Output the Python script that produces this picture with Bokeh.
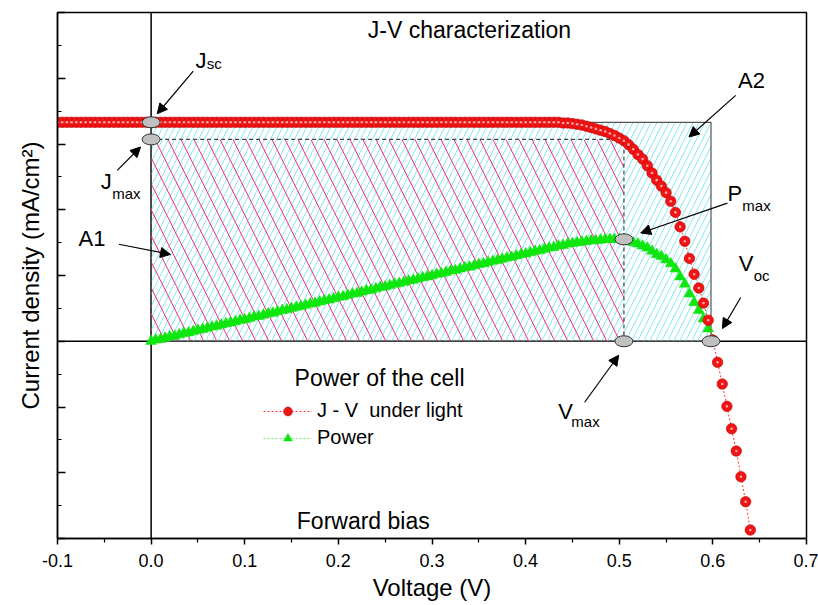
from bokeh.plotting import figure
from bokeh.models import (Span, Arrow, NormalHead, Label, Legend, LegendItem,
                          FixedTicker, PrintfTickFormatter, CustomJSTickFormatter)
from bokeh.embed import file_html
from bokeh.resources import INLINE

# ---------------- data ----------------
# J-V curve under light (V in volts, J in mA/cm^2)
v_jv = [
    -0.100, -0.095, -0.090, -0.085, -0.080, -0.075, -0.070, -0.065, -0.060, -0.055,
    -0.050, -0.045, -0.040, -0.035, -0.030, -0.025, -0.020, -0.015, -0.010, -0.005,
    0.000, 0.005, 0.010, 0.015, 0.020, 0.025, 0.030, 0.035, 0.040, 0.045,
    0.050, 0.055, 0.060, 0.065, 0.070, 0.075, 0.080, 0.085, 0.090, 0.095,
    0.100, 0.105, 0.110, 0.115, 0.120, 0.125, 0.130, 0.135, 0.140, 0.145,
    0.150, 0.155, 0.160, 0.165, 0.170, 0.175, 0.180, 0.185, 0.190, 0.195,
    0.200, 0.205, 0.210, 0.215, 0.220, 0.225, 0.230, 0.235, 0.240, 0.245,
    0.250, 0.255, 0.260, 0.265, 0.270, 0.275, 0.280, 0.285, 0.290, 0.295,
    0.300, 0.305, 0.310, 0.315, 0.320, 0.325, 0.330, 0.335, 0.340, 0.345,
    0.350, 0.355, 0.360, 0.365, 0.370, 0.375, 0.380, 0.385, 0.390, 0.395,
    0.400, 0.405, 0.410, 0.415, 0.420, 0.425, 0.430, 0.435, 0.440, 0.445,
    0.450, 0.455, 0.460, 0.465, 0.470, 0.475, 0.480, 0.485, 0.490, 0.495,
    0.500, 0.505, 0.510, 0.515, 0.520, 0.525, 0.530, 0.535, 0.540, 0.545,
    0.550, 0.555, 0.560, 0.565, 0.570, 0.575, 0.580, 0.585, 0.590, 0.595,
    0.600, 0.605, 0.610, 0.615, 0.620, 0.625, 0.630, 0.635, 0.640,
]
j_jv = [
    33.3, 33.3, 33.3, 33.3, 33.3, 33.3, 33.3, 33.3, 33.3, 33.3,
    33.3, 33.3, 33.3, 33.3, 33.3, 33.3, 33.3, 33.3, 33.3, 33.3,
    33.3, 33.3, 33.3, 33.3, 33.3, 33.3, 33.3, 33.3, 33.3, 33.3,
    33.3, 33.3, 33.3, 33.3, 33.3, 33.3, 33.3, 33.3, 33.3, 33.3,
    33.3, 33.3, 33.3, 33.3, 33.3, 33.3, 33.3, 33.3, 33.3, 33.3,
    33.3, 33.3, 33.3, 33.3, 33.3, 33.3, 33.3, 33.3, 33.3, 33.3,
    33.3, 33.3, 33.3, 33.3, 33.3, 33.3, 33.3, 33.3, 33.3, 33.3,
    33.3, 33.3, 33.3, 33.3, 33.3, 33.3, 33.3, 33.3, 33.3, 33.3,
    33.3, 33.3, 33.3, 33.3, 33.3, 33.3, 33.3, 33.3, 33.3, 33.3,
    33.3, 33.3, 33.3, 33.3, 33.3, 33.3, 33.3, 33.3, 33.3, 33.3,
    33.3, 33.3, 33.3, 33.3, 33.3, 33.3, 33.3, 33.3, 33.2, 33.2,
    33.1, 33.0, 32.9, 32.7, 32.5, 32.3, 32.1, 31.9, 31.6, 31.3,
    30.9, 30.5, 29.9, 29.2, 28.4, 27.7, 26.7, 25.6, 24.5, 23.6,
    22.6, 21.3, 19.6, 17.4, 15.2, 12.6, 10.2, 8.1, 5.8, 3.2,
    0.2, -3.2, -6.5, -9.9, -13.3, -16.7, -20.6, -24.4, -28.7,
]

# Power of the cell (V in volts, P in mW/cm^2)
v_pow = [
    0.000, 0.005, 0.010, 0.015, 0.020, 0.025, 0.030, 0.035, 0.040, 0.045,
    0.050, 0.055, 0.060, 0.065, 0.070, 0.075, 0.080, 0.085, 0.090, 0.095,
    0.100, 0.105, 0.110, 0.115, 0.120, 0.125, 0.130, 0.135, 0.140, 0.145,
    0.150, 0.155, 0.160, 0.165, 0.170, 0.175, 0.180, 0.185, 0.190, 0.195,
    0.200, 0.205, 0.210, 0.215, 0.220, 0.225, 0.230, 0.235, 0.240, 0.245,
    0.250, 0.255, 0.260, 0.265, 0.270, 0.275, 0.280, 0.285, 0.290, 0.295,
    0.300, 0.305, 0.310, 0.315, 0.320, 0.325, 0.330, 0.335, 0.340, 0.345,
    0.350, 0.355, 0.360, 0.365, 0.370, 0.375, 0.380, 0.385, 0.390, 0.395,
    0.400, 0.405, 0.410, 0.415, 0.420, 0.425, 0.430, 0.435, 0.440, 0.445,
    0.450, 0.455, 0.460, 0.465, 0.470, 0.475, 0.480, 0.485, 0.490, 0.495,
    0.500, 0.505, 0.510, 0.515, 0.520, 0.525, 0.530, 0.535, 0.540, 0.545,
    0.550, 0.555, 0.560, 0.565, 0.570, 0.575, 0.580, 0.585, 0.590, 0.595,
    0.600,
]
p_pow = [
    0.0, 0.2, 0.3, 0.5, 0.7, 0.8, 1.0, 1.2, 1.3, 1.5,
    1.7, 1.8, 2.0, 2.2, 2.3, 2.5, 2.7, 2.8, 3.0, 3.2,
    3.3, 3.5, 3.7, 3.8, 4.0, 4.2, 4.3, 4.5, 4.7, 4.8,
    5.0, 5.2, 5.3, 5.5, 5.7, 5.8, 6.0, 6.2, 6.3, 6.5,
    6.7, 6.8, 7.0, 7.2, 7.3, 7.5, 7.7, 7.8, 8.0, 8.2,
    8.3, 8.5, 8.7, 8.8, 9.0, 9.2, 9.3, 9.5, 9.7, 9.8,
    10.0, 10.2, 10.3, 10.5, 10.7, 10.8, 11.0, 11.2, 11.3, 11.5,
    11.7, 11.8, 12.0, 12.2, 12.3, 12.5, 12.7, 12.8, 13.0, 13.2,
    13.3, 13.5, 13.7, 13.8, 14.0, 14.2, 14.3, 14.5, 14.6, 14.8,
    14.9, 15.0, 15.1, 15.2, 15.3, 15.3, 15.4, 15.5, 15.5, 15.5,
    15.5, 15.5, 15.2, 15.0, 14.8, 14.5, 14.2, 13.7, 13.2, 12.9,
    12.4, 11.8, 11.0, 9.8, 8.7, 7.2, 5.9, 4.7, 3.4, 1.9,
    0.1,
]

# characteristic points
j_sc = 33.3
v_oc = 0.598
v_max = 0.505
j_max = 30.7
p_max = 15.5
key_names = ["Jsc", "Jmax", "Pmax", "Vmax", "Voc"]
key_v = [0.0, 0.0, v_max, v_max, v_oc]
key_j = [j_sc, j_max, p_max, 0.0, 0.0]

# ticks
x_major_ticks = [-0.1, 0.0, 0.1, 0.2, 0.3, 0.4, 0.5, 0.6, 0.7]
x_minor_ticks = [-0.05, 0.05, 0.15, 0.25, 0.35, 0.45, 0.55, 0.65]
y_major_ticks = [-30, -20, -10, 0, 10, 20, 30, 40, 50]
y_minor_ticks = [-25, -15, -5, 5, 15, 25, 35, 45]

FONT = "Liberation Sans"

# ---------------- figure ----------------
p = figure(width=818, height=605, x_range=(-0.1, 0.7), y_range=(-30, 50),
           output_backend="svg", toolbar_location=None,
           min_border_left=57, min_border_right=12, min_border_top=12,
           min_border_bottom=67, background_fill_color="white",
           border_fill_color="white")
p.xgrid.visible = False
p.ygrid.visible = False
p.outline_line_color = "black"
p.outline_line_width = 1.5

# x axis
xa = p.xaxis[0]
xa.ticker = FixedTicker(ticks=x_major_ticks, minor_ticks=x_minor_ticks)
xa.formatter = PrintfTickFormatter(format="%.1f")
xa.major_tick_in = 0
xa.major_tick_out = 6
xa.minor_tick_in = 0
xa.minor_tick_out = 4
xa.axis_line_width = 1.5
xa.major_tick_line_width = 1.5
xa.minor_tick_line_width = 1.2
xa.major_label_text_font = FONT
xa.major_label_text_font_size = "18px"
xa.major_label_text_color = "black"
xa.major_label_standoff = 9
xa.axis_label = "Voltage (V)"
xa.axis_label_text_font = FONT
xa.axis_label_text_font_size = "24px"
xa.axis_label_text_font_style = "normal"
xa.axis_label_text_color = "black"
xa.axis_label_standoff = 4

# y axis
ya = p.yaxis[0]
ya.ticker = FixedTicker(ticks=y_major_ticks, minor_ticks=y_minor_ticks)
ya.formatter = CustomJSTickFormatter(code="return ''")
ya.major_tick_in = 8
ya.major_tick_out = 0
ya.minor_tick_in = 4
ya.minor_tick_out = 0
ya.axis_line_width = 1.5
ya.major_tick_line_width = 1.5
ya.minor_tick_line_width = 1.2
ya.major_label_standoff = 0
ya.axis_label = "Current density (mA/cm²)"
ya.axis_label_text_font = FONT
ya.axis_label_text_font_size = "24px"
ya.axis_label_text_font_style = "normal"
ya.axis_label_text_color = "black"
ya.axis_label_standoff = 14

# zero lines
p.add_layout(Span(location=0, dimension="width", line_color="black",
                  line_width=1.5, level="underlay"))
p.add_layout(Span(location=0, dimension="height", line_color="black",
                  line_width=1.5, level="underlay"))

# hatched areas A2 (Voc x Jsc) and A1 (Vmax x Jmax)
p.quad(left=[0.0], right=[v_oc], bottom=[0.0], top=[j_sc],
       fill_color=None, hatch_pattern="right_diagonal_line",
       hatch_color="#86e8f5", hatch_scale=12, hatch_weight=1,
       line_color="#555555", line_width=1.2)
p.quad(left=[0.0], right=[v_max], bottom=[0.0], top=[j_max],
       fill_color=None, hatch_pattern="left_diagonal_line",
       hatch_color="#ff2a88", hatch_scale=26, hatch_weight=1,
       line_color="#444444", line_width=1.2, line_dash="4 3")

# power curve
pow_line = p.line(v_pow, p_pow, line_color="#66ee66", line_width=1,
                  line_dash="2 2")
pow_pts = p.scatter(v_pow, p_pow, marker="triangle", size=11,
                    fill_color="#0fe60f", line_color="#0fe60f", line_width=0.5)

# J-V curve
jv_line = p.line(v_jv, j_jv, line_color="#ff3333", line_width=1,
                 line_dash="2 2")
jv_pts = p.scatter(v_jv, j_jv, marker="circle", size=10.5,
                   fill_color="#f01414", line_color="#c00000", line_width=0.6)
p.scatter(v_jv, j_jv, marker="circle", size=2.6, fill_color="#ffa8a8",
          line_color=None)

# key points
p.ellipse(x=key_v, y=key_j, width=18, height=11, width_units="screen",
          height_units="screen", fill_color="#c0c0c0", line_color="#333333",
          line_width=1)

# legend
legend = Legend(items=[
    LegendItem(label="J - V  under light", renderers=[jv_line, jv_pts]),
    LegendItem(label="Power", renderers=[pow_line, pow_pts]),
], location=(206, 89), padding=0, margin=0, glyph_width=49, glyph_height=22,
    label_height=22, spacing=4, label_standoff=5, border_line_color=None,
    background_fill_alpha=0, label_text_font=FONT, label_text_font_size="20px",
    label_text_color="black")
p.add_layout(legend)

# texts
def lab(x, y, t, size, align="left"):
    p.add_layout(Label(x=x, y=y, text=t, text_font=FONT, text_font_size=size,
                       text_color="black", text_align=align,
                       text_baseline="alphabetic"))

lab(0.340, 47.3, "J-V characterization", "23px", "center")
lab(0.244, -5.65, "Power of the cell", "23px", "center")
lab(0.2266, -27.3, "Forward bias", "23px", "center")
lab(-0.0776, 15.65, "A1", "22px")
lab(0.6268, 39.65, "A2", "22px")
lab(0.0474, 42.75, "J", "22px")
lab(0.0595, 42.2, "sc", "15px")
lab(-0.0537, 24.25, "J", "22px")
lab(-0.0416, 22.45, "max", "15px")
lab(0.6155, 22.5, "P", "22px")
lab(0.6315, 20.65, "max", "15px")
lab(0.6276, 11.85, "V", "22px")
lab(0.6436, 10.05, "oc", "15px")
lab(0.4348, -10.7, "V", "22px")
lab(0.4488, -12.25, "max", "15px")

# arrows
arrows = [
    (0.045, 41.1, 0.0065, 34.6),
    (-0.0362, 26.0, -0.0113, 29.55),
    (-0.0345, 14.75, 0.0207, 13.2),
    (0.6244, 37.4, 0.5745, 31.07),
    (0.6155, 21.0, 0.5229, 16.47),
    (0.6297, 6.65, 0.6102, 1.93),
    (0.463, -9.28, 0.4994, -2.13),
]
for xs, ys, xe, ye in arrows:
    p.add_layout(Arrow(end=NormalHead(size=10, fill_color="black",
                                      line_color="black", line_width=1),
                       x_start=xs, y_start=ys, x_end=xe, y_end=ye,
                       line_color="black", line_width=1.2))

open("out.html", "w").write(file_html(p, INLINE))
